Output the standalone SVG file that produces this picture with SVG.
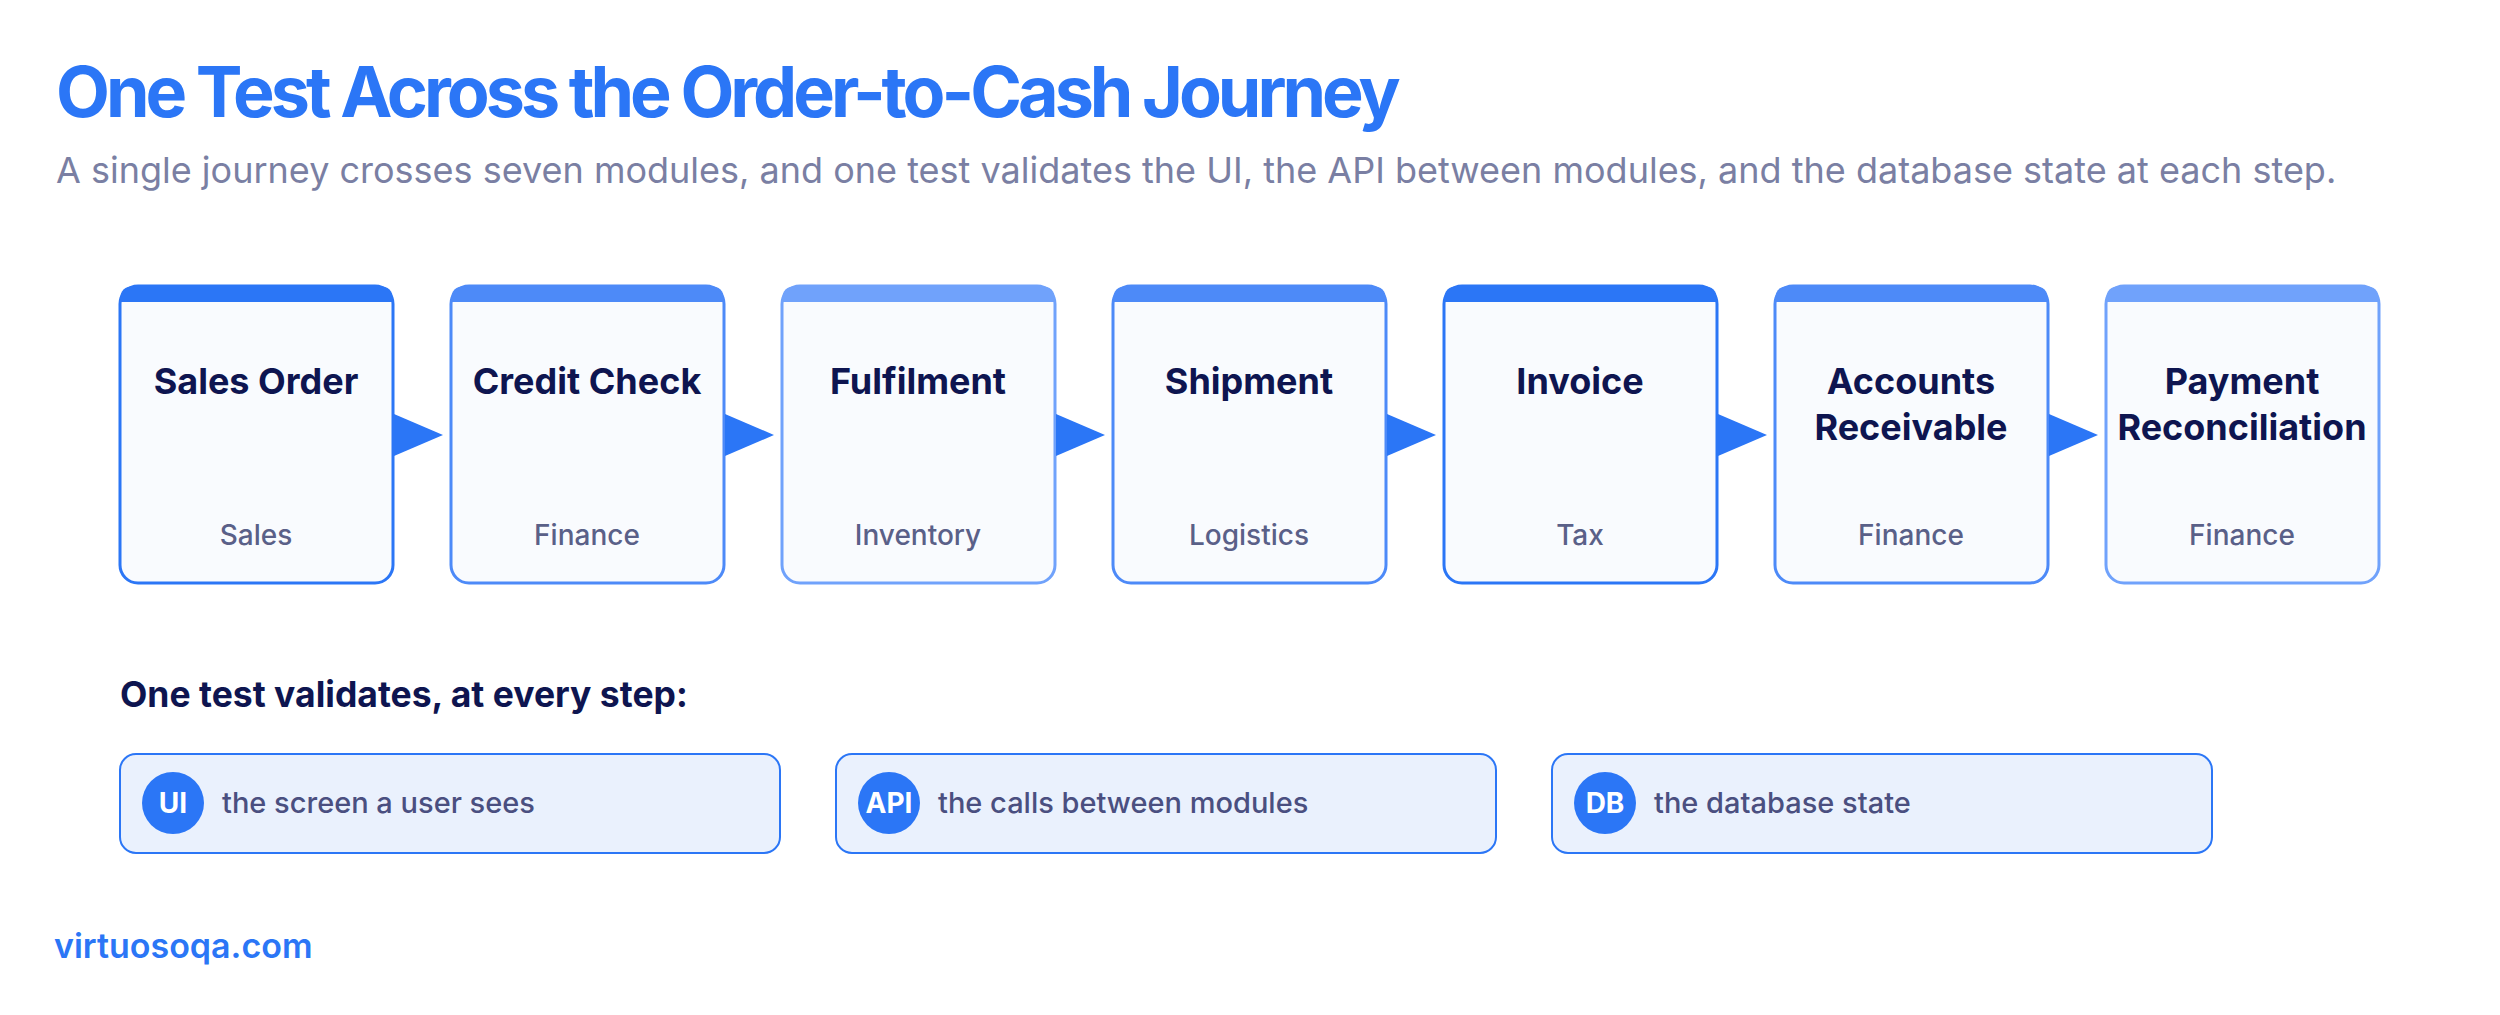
<svg xmlns="http://www.w3.org/2000/svg" width="2500" height="1015" viewBox="0 0 2500 1015">
<defs>
<style>
.title{font-family:Inter,"Liberation Sans",sans-serif;font-weight:700;font-size:70px;fill:#2B76F6;letter-spacing:-4px}
.sub{font-family:Inter,"Liberation Sans",sans-serif;font-weight:400;font-size:36px;fill:#7A7FA3}
.nbox{fill:#F9FBFE;stroke-width:3}
.nt{font-family:Inter,"Liberation Sans",sans-serif;font-weight:700;font-size:36px;fill:#0E1550;text-anchor:middle}
.ns{font-family:Inter,"Liberation Sans",sans-serif;font-weight:500;font-size:28px;fill:#5A6088;text-anchor:middle}
.arrow{fill:#2B76F6}
.h2{font-family:Inter,"Liberation Sans",sans-serif;font-weight:700;font-size:35.5px;fill:#0E1550}
.vbox{fill:#EAF1FD;stroke:#2B76F6;stroke-width:2}
.badge{fill:#2B76F6}
.bt{font-family:Inter,"Liberation Sans",sans-serif;font-weight:700;font-size:28px;fill:#FFFFFF;text-anchor:middle}
.vt{font-family:Inter,"Liberation Sans",sans-serif;font-weight:500;font-size:29px;fill:#4A4F80}
.foot{font-family:Inter,"Liberation Sans",sans-serif;font-weight:600;font-size:34px;fill:#2B76F6}
.c1{stroke:#2B76F6}.f1{fill:#2B76F6}
.c2{stroke:#4D8AF8}.f2{fill:#4D8AF8}
.c3{stroke:#70A2FB}.f3{fill:#70A2FB}
</style>
</defs>
<rect width="2500" height="1015" fill="#FFFFFF"/>
<text class="title" x="56" y="117">One Test Across the Order-to-Cash Journey</text>
<text class="sub" x="56" y="183">A single journey crosses seven modules, and one test validates the UI, the API between modules, and the database state at each step.</text>

<g id="node-sales-order">
<rect class="nbox c1" x="120" y="286" width="273" height="297" rx="18"/>
<path class="f1" d="M120 302 V300 Q120 286 134 286 H379 Q393 286 393 300 V302 Z"/>
<text class="nt" x="256" y="394">Sales Order</text>
<text class="ns" x="256" y="545">Sales</text>
</g>
<g id="node-credit-check">
<rect class="nbox c2" x="451" y="286" width="273" height="297" rx="18"/>
<path class="f2" d="M451 302 V300 Q451 286 465 286 H710 Q724 286 724 300 V302 Z"/>
<text class="nt" x="587" y="394">Credit Check</text>
<text class="ns" x="587" y="545">Finance</text>
</g>
<g id="node-fulfilment">
<rect class="nbox c3" x="782" y="286" width="273" height="297" rx="18"/>
<path class="f3" d="M782 302 V300 Q782 286 796 286 H1041 Q1055 286 1055 300 V302 Z"/>
<text class="nt" x="918" y="394">Fulfilment</text>
<text class="ns" x="918" y="545">Inventory</text>
</g>
<g id="node-shipment">
<rect class="nbox c2" x="1113" y="286" width="273" height="297" rx="18"/>
<path class="f2" d="M1113 302 V300 Q1113 286 1127 286 H1372 Q1386 286 1386 300 V302 Z"/>
<text class="nt" x="1249" y="394">Shipment</text>
<text class="ns" x="1249" y="545">Logistics</text>
</g>
<g id="node-invoice">
<rect class="nbox c1" x="1444" y="286" width="273" height="297" rx="18"/>
<path class="f1" d="M1444 302 V300 Q1444 286 1458 286 H1703 Q1717 286 1717 300 V302 Z"/>
<text class="nt" x="1580" y="394">Invoice</text>
<text class="ns" x="1580" y="545">Tax</text>
</g>
<g id="node-accounts-receivable">
<rect class="nbox c2" x="1775" y="286" width="273" height="297" rx="18"/>
<path class="f2" d="M1775 302 V300 Q1775 286 1789 286 H2034 Q2048 286 2048 300 V302 Z"/>
<text class="nt" x="1911" y="394">Accounts</text>
<text class="nt" x="1911" y="440">Receivable</text>
<text class="ns" x="1911" y="545">Finance</text>
</g>
<g id="node-payment-reconciliation">
<rect class="nbox c3" x="2106" y="286" width="273" height="297" rx="18"/>
<path class="f3" d="M2106 302 V300 Q2106 286 2120 286 H2365 Q2379 286 2379 300 V302 Z"/>
<text class="nt" x="2242" y="394">Payment</text>
<text class="nt" x="2242" y="440">Reconciliation</text>
<text class="ns" x="2242" y="545">Finance</text>
</g>

<g id="connectors">
<polygon class="arrow" points="394,414 443,435 394,456"/>
<polygon class="arrow" points="725,414 774,435 725,456"/>
<polygon class="arrow" points="1056,414 1105,435 1056,456"/>
<polygon class="arrow" points="1387,414 1436,435 1387,456"/>
<polygon class="arrow" points="1718,414 1767,435 1718,456"/>
<polygon class="arrow" points="2049,414 2098,435 2049,456"/>
</g>

<text class="h2" x="120" y="707">One test validates, at every step:</text>

<g id="check-ui">
<rect class="vbox" x="120" y="754" width="660" height="99" rx="16"/>
<circle class="badge" cx="173" cy="803" r="31"/>
<text class="bt" x="173" y="813">UI</text>
<text class="vt" x="222" y="813">the screen a user sees</text>
</g>
<g id="check-api">
<rect class="vbox" x="836" y="754" width="660" height="99" rx="16"/>
<circle class="badge" cx="889" cy="803" r="31"/>
<text class="bt" x="889" y="813">API</text>
<text class="vt" x="938" y="813">the calls between modules</text>
</g>
<g id="check-db">
<rect class="vbox" x="1552" y="754" width="660" height="99" rx="16"/>
<circle class="badge" cx="1605" cy="803" r="31"/>
<text class="bt" x="1605" y="813">DB</text>
<text class="vt" x="1654" y="813">the database state</text>
</g>

<text class="foot" x="54" y="958">virtuosoqa.com</text>
</svg>
